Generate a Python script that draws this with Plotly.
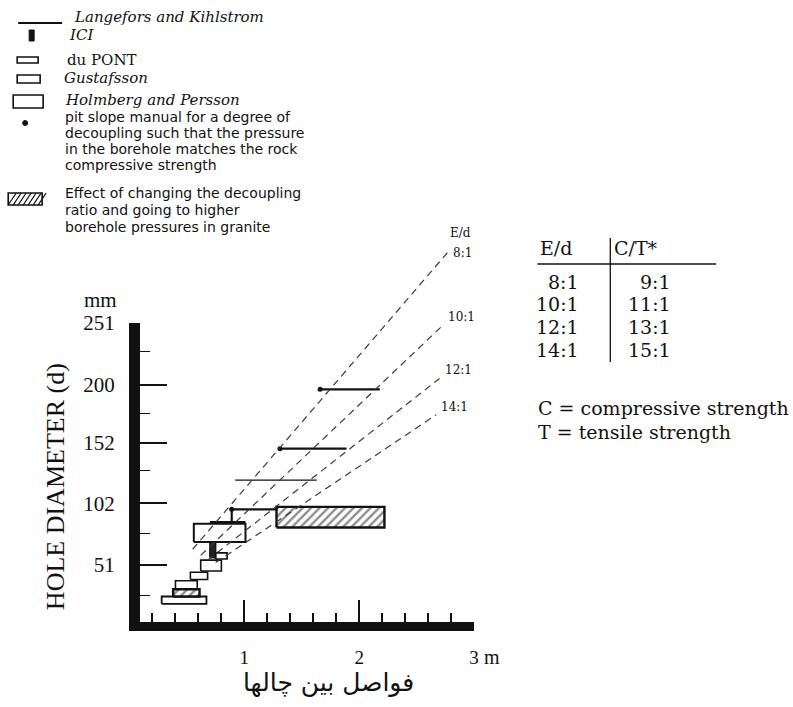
import plotly.graph_objects as go

# ---------------- data ----------------
# hole diameter axis (mm)
d_ticks = [51, 102, 152, 200, 251]
d_minor = [26, 77, 129, 176, 227]
# spacing between holes (m)
e_ticks = [1, 2, 3]
e_minor = [0.2, 0.4, 0.6, 0.8, 1.2, 1.4, 1.6, 1.8, 2.2, 2.4, 2.6, 2.8]

# E/d guide lines: spacing (m) and diameter (mm) at both ends
ratio_labels = ["8:1", "10:1", "12:1", "14:1"]
ratio_e = [[0.55, 2.77], [0.62, 2.73], [0.68, 2.70], [0.75, 2.67]]
ratio_d = [[64, 309], [59, 249], [55, 205], [53, 175]]

# Langefors and Kihlstrom spacing ranges
lk_d = [196, 147, 121, 97]
lk_e_min = [1.66, 1.31, 0.92, 0.89]
lk_e_max = [2.18, 1.89, 1.63, 1.29]

# ICI
ici_e = [0.70, 0.75]
ici_d = [57, 70]

# du PONT
dupont_e0 = [0.75, 0.62, 0.53, 0.40]
dupont_e1 = [0.85, 0.80, 0.68, 0.59]
dupont_d0 = [56, 46, 39, 31]
dupont_d1 = [61, 55, 45, 38]

# Gustafsson
gus_e0, gus_e1 = [0.28], [0.67]
gus_d0, gus_d1 = [19], [25]

# Holmberg and Persson
hp_e0, hp_e1 = [0.56], [1.01]
hp_d0, hp_d1 = [70], [85]

# pit slope manual points
psm_e = [1.66, 1.31, 0.89]
psm_d = [196, 147, 97]

# effect of decoupling ratio (granite)
eff_e0 = [1.28, 0.38]
eff_e1 = [2.22, 0.61]
eff_d0 = [82, 25]
eff_d1 = [99, 31]

# E/d  ->  C/T table
table_ed = ["8:1", "10:1", "12:1", "14:1"]
table_ct = ["9:1", "11:1", "13:1", "15:1"]

# ---------------- geometry ----------------
W, H = 793, 707
L, R, T, B = 140, 474.5, 228, 622          # plot area in pixels
PX_M, PX_MM = 115.0, 1.2115                # scale of the two axes
E0_PX, D0_PY = 129.5, 626.8                # pixel of spacing 0 / diameter 0

x_rng = [(L - E0_PX) / PX_M, (R - E0_PX) / PX_M]
y_min = (D0_PY - B) / PX_MM
y_max_full = (D0_PY - T) / PX_MM
y_top_axis = 251
main_dom = (y_top_axis - y_min) / (y_max_full - y_min)


def fx(px):
    return (px - L) / (R - L)


def fy(py):
    return (B - py) / (B - T)


def boxes(e0, e1, d0, d1):
    xs, ys = [], []
    for a, b, c, d in zip(e0, e1, d0, d1):
        xs += [a, b, b, a, a, None]
        ys += [c, c, d, d, c, None]
    return xs, ys


SERIF = "Liberation Serif, Times New Roman, serif"
WIDE_SERIF = "DejaVu Serif, serif"
SANS = "DejaVu Sans, sans-serif"
INK = "#111111"


def label(text, px, py, size, family=SERIF, xa="center", ya="middle", **kw):
    return dict(x=fx(px), y=fy(py), xref="paper", yref="paper", text=text,
                xanchor=xa, yanchor=ya, showarrow=False,
                font=dict(family=family, size=size, color=INK), **kw)


fig = go.Figure()

# boxes on the main axes
for (e0, e1, d0, d1), lw in [((hp_e0, hp_e1, hp_d0, hp_d1), 2.0),
                             ((dupont_e0, dupont_e1, dupont_d0, dupont_d1), 1.6),
                             ((gus_e0, gus_e1, gus_d0, gus_d1), 1.8)]:
    bx, by = boxes(e0, e1, d0, d1)
    fig.add_trace(go.Scatter(x=bx, y=by, mode="lines", fill="toself",
                             fillcolor="white", line=dict(color=INK, width=lw),
                             hoverinfo="skip", showlegend=False))

bx, by = boxes(eff_e0, eff_e1, eff_d0, eff_d1)
fig.add_trace(go.Scatter(x=bx, y=by, mode="lines", fill="toself",
                         fillcolor="white",
                         fillpattern=dict(shape="/", fgcolor="#1a1a1a", bgcolor="white",
                                          size=6, solidity=0.4),
                         line=dict(color=INK, width=2.4),
                         hoverinfo="skip", showlegend=False))

bx, by = boxes([ici_e[0]], [ici_e[1]], [ici_d[0]], [ici_d[1]])
fig.add_trace(go.Scatter(x=bx, y=by, mode="lines", fill="toself",
                         fillcolor="#222", line=dict(color=INK, width=1.5),
                         hoverinfo="skip", showlegend=False))

# Langefors and Kihlstrom ranges
for d, a, b in zip(lk_d, lk_e_min, lk_e_max):
    fig.add_trace(go.Scatter(x=[a, b], y=[d, d], mode="lines",
                             line=dict(color=INK, width=2.2 if d != 121 else 1.3),
                             hoverinfo="skip", showlegend=False))
# step from the 97 mm range down onto the box top
fig.add_trace(go.Scatter(x=[lk_e_min[3], lk_e_min[3]],
                         y=[hp_d1[0], lk_d[3]], mode="lines",
                         line=dict(color=INK, width=2.2), hoverinfo="skip",
                         showlegend=False))
fig.add_trace(go.Scatter(x=[ici_e[0], hp_e1[0]], y=[hp_d1[0] + 1, hp_d1[0] + 1],
                         mode="lines", line=dict(color=INK, width=3),
                         hoverinfo="skip", showlegend=False))

fig.add_trace(go.Scatter(x=psm_e, y=psm_d, mode="markers",
                         marker=dict(color=INK, size=5),
                         hoverinfo="skip", showlegend=False))

# E/d guide lines on the full-height overlay axes
for lab, es, ds in zip(ratio_labels, ratio_e, ratio_d):
    fig.add_trace(go.Scatter(x=es, y=ds, mode="lines", xaxis="x2", yaxis="y2",
                             line=dict(color="#3a3a3a", width=1.2, dash="7px,5px"),
                             hoverinfo="skip", showlegend=False))

ann = []
for i, (lab, es, ds) in enumerate(zip(ratio_labels, ratio_e, ratio_d)):
    ann.append(dict(x=es[1], y=ds[1], xref="x2", yref="y2", text=lab,
                    xanchor="left", yanchor="middle", xshift=3,
                    yshift=-1 if i == 0 else 8,
                    showarrow=False, font=dict(family=WIDE_SERIF, size=12, color=INK)))
ann.append(dict(x=ratio_e[0][1], y=ratio_d[0][1], xref="x2", yref="y2", text="E/d",
                xanchor="left", yanchor="middle", xshift=0, yshift=19,
                showarrow=False, font=dict(family=WIDE_SERIF, size=12, color=INK)))

# axis annotations
ann.append(label("mm", 100, 300, 21))
ann.append(label("m", 493, 657, 20))
ann.append(label("HOLE DIAMETER (d)", 55, 487, 26, textangle=-90))
ann.append(label("فواصل بین چالها", 329, 683, 25, family=SANS))

# legend block
legend_rows = [
    ("<i>Langefors and Kihlstrom</i>", 72, 17, WIDE_SERIF),
    ("<i>ICI</i>", 67, 35, WIDE_SERIF),
    ("du PONT", 65, 60, WIDE_SERIF),
    ("<i>Gustafsson</i>", 62, 78, WIDE_SERIF),
    ("<i>Holmberg and Persson</i>", 63, 100, WIDE_SERIF),
    ("pit slope manual for a degree of", 63, 117, SANS),
    ("decoupling such that the pressure", 63, 133, SANS),
    ("in the borehole matches the rock", 63, 149, SANS),
    ("compressive strength", 63, 165, SANS),
    ("Effect of changing the decoupling", 63, 193, SANS),
    ("ratio and going to higher", 63, 210, SANS),
    ("borehole pressures in granite", 63, 227, SANS),
]
for txt, x0, y0, fam in legend_rows:
    ann.append(label(txt, x0, y0, 15 if fam == WIDE_SERIF else 14, family=fam,
                     xa="left"))

# E/d : C/T table
ann.append(label("E/d", 557, 248, 19, family=WIDE_SERIF))
ann.append(label("C/T*", 637, 248, 19, family=WIDE_SERIF))
for a, b, py in zip(table_ed, table_ct, [282, 304, 327, 350]):
    ann.append(label(a, 582, py, 19, family=WIDE_SERIF, xa="right"))
    ann.append(label(b, 674, py, 19, family=WIDE_SERIF, xa="right"))
ann.append(label("C = compressive strength", 537, 408, 19, family=WIDE_SERIF,
                 xa="left"))
ann.append(label("T = tensile strength", 537, 432, 19, family=WIDE_SERIF,
                 xa="left"))

shapes = [
    dict(type="line", xref="paper", yref="paper", x0=fx(538), x1=fx(717),
         y0=fy(264), y1=fy(264), line=dict(color=INK, width=1.5)),
    dict(type="line", xref="paper", yref="paper", x0=fx(611), x1=fx(611),
         y0=fy(238), y1=fy(362), line=dict(color=INK, width=1.3)),
    # legend symbols
    dict(type="line", xref="paper", yref="paper", x0=fx(18), x1=fx(62),
         y0=fy(23), y1=fy(23), line=dict(color=INK, width=2)),
    dict(type="rect", xref="paper", yref="paper", x0=fx(29), x1=fx(34),
         y0=fy(41), y1=fy(30), fillcolor=INK, line=dict(color=INK, width=1)),
    dict(type="rect", xref="paper", yref="paper", x0=fx(17), x1=fx(38),
         y0=fy(63), y1=fy(57), line=dict(color=INK, width=1.6)),
    dict(type="rect", xref="paper", yref="paper", x0=fx(17), x1=fx(40),
         y0=fy(83), y1=fy(75), line=dict(color=INK, width=1.6)),
    dict(type="rect", xref="paper", yref="paper", x0=fx(13), x1=fx(43),
         y0=fy(108), y1=fy(95), line=dict(color=INK, width=1.6)),
    dict(type="circle", xref="paper", yref="paper", x0=fx(22.5), x1=fx(27.5),
         y0=fy(125.5), y1=fy(120.5), fillcolor=INK, line=dict(color=INK, width=1)),
    dict(type="rect", xref="paper", yref="paper", x0=fx(8), x1=fx(42),
         y0=fy(205), y1=fy(193), line=dict(color=INK, width=1.6)),
]
hatch = ""
for k in range(7):
    xa = 8 + k * 5
    hatch += f"M{fx(xa):.5f},{fy(205):.5f} L{fx(xa + 8):.5f},{fy(193):.5f} "
shapes.append(dict(type="path", xref="paper", yref="paper", path=hatch,
                   line=dict(color=INK, width=1.3)))

fig.update_layout(
    width=W, height=H,
    margin=dict(l=L, r=W - R, t=T, b=H - B, pad=0),
    paper_bgcolor="white", plot_bgcolor="rgba(0,0,0,0)",
    showlegend=False, hovermode=False,
    xaxis=dict(domain=[0, 1], range=x_rng, anchor="y",
               showline=True, linewidth=9, linecolor=INK,
               tickmode="array", tickvals=e_ticks, ticktext=["1", "2", "3"],
               ticks="inside", ticklen=22, tickwidth=2, tickcolor=INK,
               minor=dict(tickmode="array", tickvals=e_minor, ticks="inside",
                          ticklen=9, tickwidth=1.5, tickcolor=INK),
               tickfont=dict(family=SERIF, size=19, color=INK),
               ticklabelstandoff=10,
               showgrid=False, zeroline=False, fixedrange=True),
    yaxis=dict(domain=[0, main_dom], range=[y_min, y_top_axis], anchor="x",
               showline=True, linewidth=11, linecolor=INK,
               tickmode="array", tickvals=d_ticks,
               ticktext=[str(v) for v in d_ticks],
               ticks="inside", ticklen=27, tickwidth=2, tickcolor=INK,
               minor=dict(tickmode="array", tickvals=d_minor, ticks="inside",
                          ticklen=10, tickwidth=1, tickcolor=INK),
               tickfont=dict(family=SERIF, size=21, color=INK),
               ticklabelstandoff=10,
               showgrid=False, zeroline=False, fixedrange=True),
    xaxis2=dict(domain=[0, 1], range=x_rng, anchor="y2", visible=False,
                fixedrange=True),
    yaxis2=dict(domain=[0, 1], range=[y_min, y_max_full], anchor="x2",
                visible=False, fixedrange=True),
    annotations=ann,
    shapes=shapes,
)

fig.write_html("out.html", config={"displayModeBar": False})
